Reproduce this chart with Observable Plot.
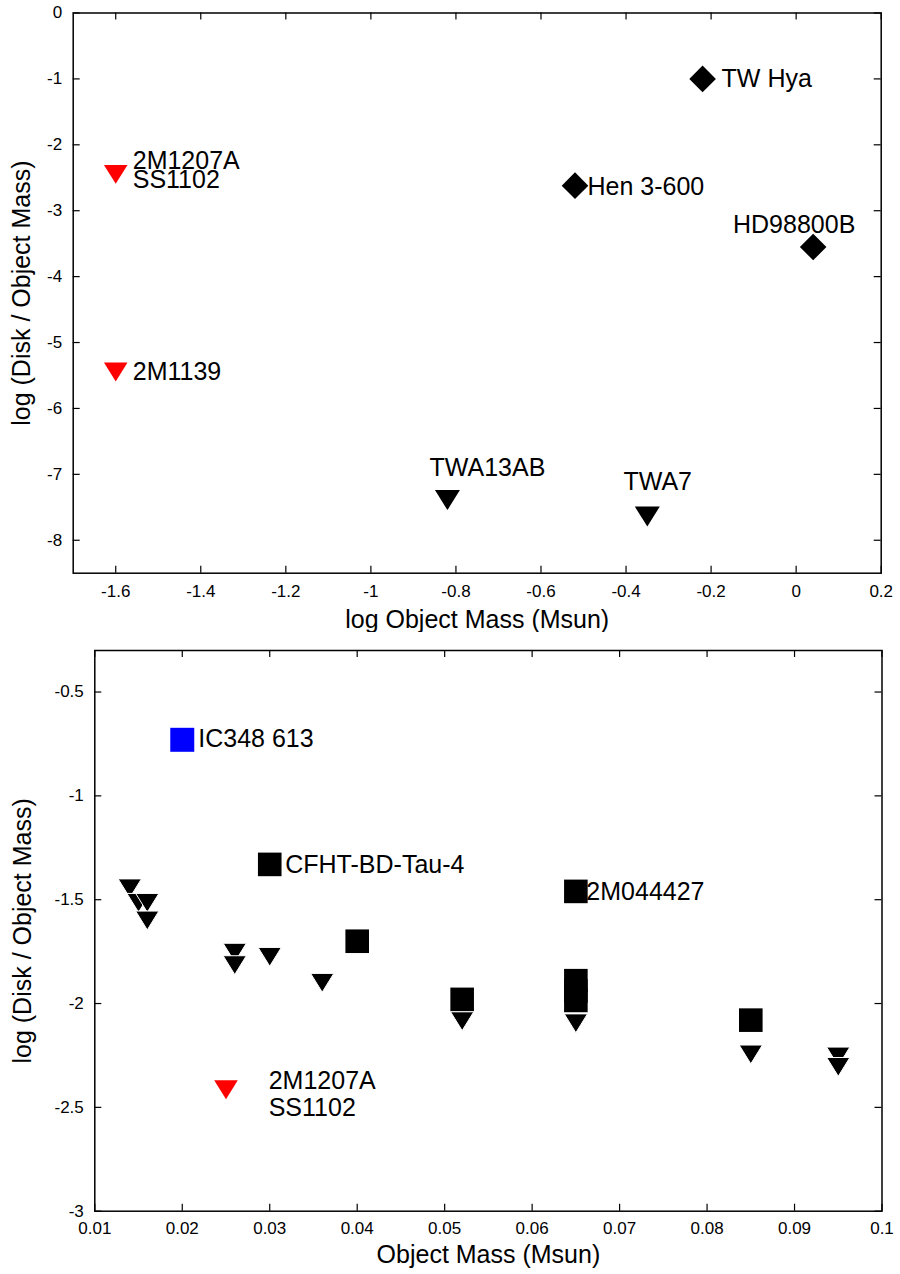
<!DOCTYPE html>
<html>
<head>
<meta charset="utf-8">
<script src="https://cdn.jsdelivr.net/npm/d3@7"></script>
<script src="https://cdn.jsdelivr.net/npm/@observablehq/plot@0.6"></script>
<style>
  html, body { margin: 0; padding: 0; background: #fff; }
  #chart svg { display: block; }
</style>
</head>
<body>
<div id="chart"></div>
<script>
// ---------------- data ----------------
// Top panel: log Object Mass vs log (Disk / Object Mass)
const topXTicks = [-1.6, -1.4, -1.2, -1, -0.8, -0.6, -0.4, -0.2, 0, 0.2];
const topYTicks = [0, -1, -2, -3, -4, -5, -6, -7, -8];

const topRedNames = ["2M1207A\nSS1102", "2M1139"];
const topRedLogMass = [-1.6, -1.6];
const topRedLogRatio = [-2.4, -5.4];

const topDiamondNames = ["TW Hya", "Hen 3-600", "HD98800B"];
const topDiamondLogMass = [-0.22, -0.52, 0.04];
const topDiamondLogRatio = [-1.0, -2.62, -3.55];

const topLimitNames = ["TWA13AB", "TWA7"];
const topLimitLogMass = [-0.82, -0.35];
const topLimitLogRatio = [-7.34, -7.59];

// Bottom panel: Object Mass vs log (Disk / Object Mass)
const botXTicks = [0.01, 0.02, 0.03, 0.04, 0.05, 0.06, 0.07, 0.08, 0.09, 0.1];
const botYTicks = [-0.5, -1, -1.5, -2, -2.5, -3];

const botBlueNames = ["IC348 613"];
const botBlueMass = [0.020];
const botBlueLogRatio = [-0.73];

const botSquareNames = ["CFHT-BD-Tau-4", "", "", "2M044427", "", "", "", ""];
const botSquareMass = [0.030, 0.040, 0.052, 0.065, 0.065, 0.065, 0.065, 0.085];
const botSquareLogRatio = [-1.33, -1.70, -1.98, -1.46, -1.89, -1.94, -1.985, -2.08];

const botLimitMass = [0.014, 0.015, 0.016, 0.016, 0.026, 0.026, 0.030, 0.036, 0.052, 0.065, 0.085, 0.095, 0.095];
const botLimitLogRatio = [-1.43, -1.50, -1.50, -1.585, -1.74, -1.80, -1.76, -1.885, -2.07, -2.08, -2.23, -2.24, -2.29];

const botRedNames = ["2M1207A\nSS1102"];
const botRedMass = [0.025];
const botRedLogRatio = [-2.40];

const topXLabel = "log Object Mass (Msun)";
const botXLabel = "Object Mass (Msun)";
const yLabel = "log (Disk / Object Mass)";

// ---------------- helpers ----------------
const rows = (names, xs, ys) => xs.map((x, i) => ({name: names ? names[i] : "", x, y: ys[i]}));

const topRed = rows(topRedNames, topRedLogMass, topRedLogRatio);
const topDiamond = rows(topDiamondNames, topDiamondLogMass, topDiamondLogRatio);
const topLimit = rows(topLimitNames, topLimitLogMass, topLimitLogRatio);
const botBlue = rows(botBlueNames, botBlueMass, botBlueLogRatio);
const botSquare = rows(botSquareNames, botSquareMass, botSquareLogRatio);
const botLimit = rows(null, botLimitMass, botLimitLogRatio);
const botRed = rows(botRedNames, botRedMass, botRedLogRatio);

const FONT = "'Liberation Sans', Arial, Helvetica, sans-serif";
const LABEL_SIZE = 25;
const TICK_SIZE = 17;

const triDown = (k) => ({
  draw(ctx, size) {
    const r = Math.sqrt(size / Math.PI);
    const h = r * k;
    ctx.moveTo(-r, -h / 3);
    ctx.lineTo(r, -h / 3);
    ctx.lineTo(0, 2 * h / 3);
    ctx.closePath();
  }
});
const diamond = {
  draw(ctx, size) {
    const r = Math.sqrt(size / Math.PI);
    ctx.moveTo(0, -r); ctx.lineTo(r, 0); ctx.lineTo(0, r); ctx.lineTo(-r, 0); ctx.closePath();
  }
};
const square = {
  draw(ctx, size) {
    const r = Math.sqrt(size / Math.PI);
    ctx.moveTo(-r, -r); ctx.lineTo(r, -r); ctx.lineTo(r, r); ctx.lineTo(-r, r); ctx.closePath();
  }
};

function frameMarks(xt, yt, pw, ph) {
  const L = 7, sw = 1.2;
  return [
    Plot.tickX(xt, {x: d => d, insetTop: ph - L, stroke: "black", strokeWidth: sw}),
    Plot.tickX(xt, {x: d => d, insetBottom: ph - L, stroke: "black", strokeWidth: sw}),
    Plot.tickY(yt, {y: d => d, insetRight: pw - L, stroke: "black", strokeWidth: sw}),
    Plot.tickY(yt, {y: d => d, insetLeft: pw - L, stroke: "black", strokeWidth: sw}),
    Plot.frame({stroke: "black", strokeWidth: 1.5})
  ];
}

function label(data, name, opts) {
  return Plot.text(data.filter(d => d.name === name), {
    x: "x", y: "y", text: "name",
    fontSize: LABEL_SIZE, lineAnchor: "middle", textAnchor: "start", fill: "black",
    ...opts
  });
}

// ---------------- top panel ----------------
const T = {w: 900, h: 632, ml: 72.7, mr: 19.3, mt: 12.5, mb: 59.3};
const topPlot = Plot.plot({
  width: T.w, height: T.h,
  marginLeft: T.ml, marginRight: T.mr, marginTop: T.mt, marginBottom: T.mb,
  x: {domain: [-1.7, 0.2]},
  y: {domain: [-8.5, 0]},
  style: {fontFamily: FONT, background: "white", color: "black"},
  marks: [
    Plot.axisX(topXTicks, {anchor: "bottom", tickSize: 0, tickPadding: 12, fontSize: TICK_SIZE, tickFormat: d => String(d), label: null}),
    Plot.axisY(topYTicks, {anchor: "left", tickSize: 0, tickPadding: 11, fontSize: TICK_SIZE, tickFormat: d => String(d), label: null}),
    ...frameMarks(topXTicks, topYTicks, T.w - T.ml - T.mr, T.h - T.mt - T.mb),
    Plot.dot(topDiamond, {x: "x", y: "y", symbol: diamond, r: 13.3, fill: "black", stroke: "none"}),
    Plot.dot(topLimit, {x: "x", y: "y", symbol: triDown(1.6), r: 12.5, fill: "black", stroke: "none"}),
    Plot.dot(topRed, {x: "x", y: "y", symbol: triDown(1.6), r: 11.8, fill: "#ff0000", stroke: "none"}),
    label(topRed, "2M1207A\nSS1102", {dx: 17, dy: 1.5, lineHeight: 0.75}),
    label(topRed, "2M1139", {dx: 17, dy: 3}),
    label(topDiamond, "TW Hya", {dx: 19, dy: 0}),
    label(topDiamond, "Hen 3-600", {dx: 12.5, dy: 1}),
    label(topDiamond, "HD98800B", {textAnchor: "middle", dx: -19, dy: -22}),
    label(topLimit, "TWA13AB", {textAnchor: "middle", dx: 40, dy: -29}),
    label(topLimit, "TWA7", {textAnchor: "middle", dx: 10.4, dy: -31}),
    Plot.text([topXLabel], {frameAnchor: "bottom", textAnchor: "middle", dy: 46.5, fontSize: LABEL_SIZE, lineAnchor: "middle", fill: "black"}),
    Plot.text([yLabel], {frameAnchor: "left", textAnchor: "middle", rotate: -90, dx: 22 - T.ml, fontSize: LABEL_SIZE, lineAnchor: "middle", fill: "black"})
  ]
});

// ---------------- bottom panel ----------------
const B = {w: 900, h: 642, ml: 94.3, mr: 18.5, mt: 18, mb: 63.3};
const botPlot = Plot.plot({
  width: B.w, height: B.h,
  marginLeft: B.ml, marginRight: B.mr, marginTop: B.mt, marginBottom: B.mb,
  x: {domain: [0.01, 0.1]},
  y: {domain: [-3, -0.3]},
  style: {fontFamily: FONT, background: "white", color: "black"},
  marks: [
    Plot.axisX(botXTicks, {anchor: "bottom", tickSize: 0, tickPadding: 11, fontSize: TICK_SIZE, tickFormat: d => String(d), label: null}),
    Plot.axisY(botYTicks, {anchor: "left", tickSize: 0, tickPadding: 11, fontSize: TICK_SIZE, tickFormat: d => String(d), label: null}),
    ...frameMarks(botXTicks, botYTicks, B.w - B.ml - B.mr, B.h - B.mt - B.mb),
    Plot.dot(botSquare, {x: "x", y: "y", symbol: square, r: 11.8, fill: "black", stroke: "none"}),
    Plot.dot(botBlue, {x: "x", y: "y", symbol: square, r: 12, fill: "#0000ff", stroke: "none"}),
    Plot.dot(botLimit, {x: "x", y: "y", symbol: triDown(1.62), r: 11.6, fill: "black", stroke: "white", strokeWidth: 1}),
    Plot.dot(botRed, {x: "x", y: "y", symbol: triDown(1.6), r: 11.8, fill: "#ff0000", stroke: "none"}),
    label(botBlue, "IC348 613", {dx: 16, dy: -1}),
    label(botSquare, "CFHT-BD-Tau-4", {dx: 15.5, dy: 0.5}),
    label(botSquare, "2M044427", {dx: 10.5, dy: 0.5}),
    label(botRed, "2M1207A\nSS1102", {dx: 42.7, dy: 7.3, lineHeight: 1.07}),
    Plot.text([botXLabel], {frameAnchor: "bottom", textAnchor: "middle", dy: 43.5, fontSize: LABEL_SIZE, lineAnchor: "middle", fill: "black"}),
    Plot.text([yLabel], {frameAnchor: "left", textAnchor: "middle", rotate: -90, dx: 22 - B.ml, fontSize: LABEL_SIZE, lineAnchor: "middle", fill: "black"})
  ]
});

const root = document.getElementById("chart");
root.appendChild(topPlot);
root.appendChild(botPlot);
</script>
</body>
</html>
